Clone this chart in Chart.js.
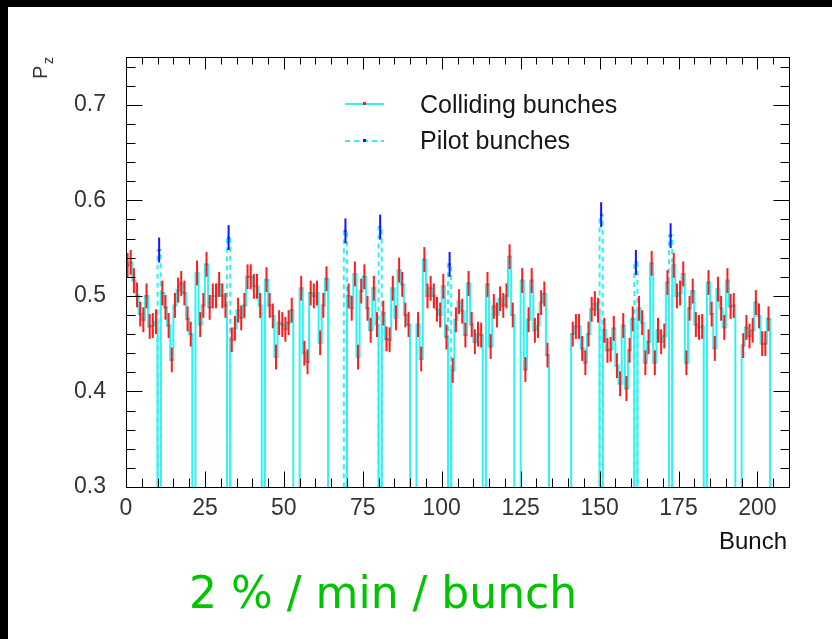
<!DOCTYPE html>
<html>
<head>
<meta charset="utf-8">
<title>Pz per bunch</title>
<script src="https://cdn.jsdelivr.net/npm/chart.js@4.4.1/dist/chart.umd.min.js"></script>
<style>
  html, body { margin: 0; padding: 0; background: #000; }
  #sheet { position: absolute; left: 8px; top: 7px; width: 824px; height: 632px; background: #fff; }
  #wrap { position: absolute; left: 0; top: 0; width: 832px; height: 639px; }
  #rate { position: absolute; left: 189px; top: 571px; font: 44px/44px "Comic Sans MS", "DejaVu Sans", sans-serif; color: #00c400; white-space: nowrap; }
</style>
</head>
<body>
<div id="sheet"></div>
<div id="wrap"><canvas id="pz" width="832" height="639"></canvas></div>
<div id="rate">2 % / min / bunch</div>
<script>
// Pz of every colliding bunch slot 0..203, null = empty slot or pilot slot
var collidingPz = [
  0.532, 0.535, 0.516, 0.501, 0.481, 0.475, 0.500, 0.468, 0.469, 0.473,
  null,  0.503, 0.488, 0.469, 0.433, 0.490, 0.506, 0.513, 0.503, 0.476,
  0.460, null,  0.524, 0.470, 0.490, 0.533, 0.488, 0.500, 0.500, 0.512,
  0.500, 0.490, null,  0.454, 0.466, 0.485, 0.477, 0.490, 0.520, 0.520,
  0.510, 0.510, 0.490, null,  0.517, 0.490, 0.479, 0.436, 0.472, 0.470,
  0.465, 0.472, 0.485, null,  null,  0.508, 0.440, 0.431, 0.503, 0.500,
  0.503, 0.451, 0.490, 0.518, null,  null,  null,  null,  null,  null,
  0.500, 0.487, 0.523, 0.436, 0.505, 0.520, 0.487, 0.464, 0.508, 0.470,
  null,  0.482, 0.455, 0.454, 0.508, 0.477, 0.527, 0.512, 0.480, 0.470,
  null,  null,  0.470, 0.434, 0.538, 0.500, 0.508, 0.500, 0.486, 0.480,
  0.510, 0.457, null,  0.422, 0.475, 0.494, 0.484, 0.459, 0.513, 0.470,
  0.452, 0.460, 0.459, null,  0.512, 0.447, 0.489, 0.480, 0.497, 0.490,
  0.500, 0.541, 0.480, null,  null,  0.516, 0.423, 0.475, 0.516, 0.464,
  0.469, 0.493, 0.502, 0.438, null,  null,  null,  null,  null,  null,
  null,  0.460, 0.468, 0.468, 0.445, 0.430, 0.460, 0.486, 0.492, 0.485,
  null,  0.464, 0.443, 0.444, 0.466, 0.427, 0.408, 0.469, 0.403, 0.443,
  0.476, null,  0.487, 0.472, 0.430, 0.452, 0.534, 0.430, 0.464, 0.452,
  0.458, 0.514, null,  0.532, 0.500, 0.503, 0.523, 0.430, 0.487, 0.505,
  0.470, 0.467, 0.468, null,  0.514, 0.481, 0.445, 0.507, 0.487, 0.467,
  0.516, 0.489, 0.490, null,  null,  0.448, 0.467, 0.458, 0.464, 0.493,
  0.479, 0.450, 0.450, 0.476
];
var collidingErr = 0.013;

var pilotBunch = [10, 32, 69, 80, 102, 150, 161, 172];
var pilotPz = [0.548, 0.561, 0.568, 0.572, 0.533, 0.585, 0.535, 0.563];
var pilotErr = 0.013;

var xTicks = [0, 25, 50, 75, 100, 125, 150, 175, 200];
var yTicks = [0.3, 0.4, 0.5, 0.6, 0.7];

var CYAN = '#30f2f2';
var RED = '#ff1c1c';
var BLUE = '#1414ff';
var FONT = '"Liberation Sans", Arial, sans-serif';
var NARROW = '"Liberation Sans Narrow", "Liberation Sans", Arial, sans-serif';

// histogram outline: each value holds over [b, b+1], empty slots fall to 0
var collOutline = [{x: 0, y: 0}];
var collPoints = [];
collidingPz.forEach(function (v, b) {
  collOutline.push({x: b, y: v === null ? 0 : v});
  if (v !== null) collPoints.push({x: b + 0.5, y: v});
});
collOutline.push({x: collidingPz.length, y: 0});

var pilotOutline = [];
var pilotPoints = [];
pilotBunch.forEach(function (b, i) {
  var v = pilotPz[i];
  pilotOutline.push({x: b, y: 0}, {x: b, y: v}, {x: b + 1, y: v}, {x: b + 1, y: 0});
  pilotPoints.push({x: b + 0.5, y: v});
});

function crisp(v) { return Math.round(v) + 0.5; }

var rootFrame = {
  id: 'rootFrame',
  // error bars go under the point markers
  beforeDatasetDraw: function (chart, args) {
    var ds = chart.data.datasets[args.index];
    if (!ds.err) return;
    var ctx = chart.ctx, sx = chart.scales.x, sy = chart.scales.y;
    ctx.save();
    ctx.strokeStyle = ds.barColor;
    ctx.lineWidth = 2;
    ds.data.forEach(function (p) {
      var px = sx.getPixelForValue(p.x);
      ctx.beginPath();
      ctx.moveTo(px, sy.getPixelForValue(p.y - ds.err));
      ctx.lineTo(px, sy.getPixelForValue(p.y + ds.err));
      ctx.stroke();
    });
    ctx.restore();
  },
  afterDraw: function (chart) {
    var ctx = chart.ctx, a = chart.chartArea, sx = chart.scales.x, sy = chart.scales.y;
    var L = crisp(a.left), R = crisp(a.right), T = crisp(a.top), B = crisp(a.bottom);
    ctx.save();
    ctx.strokeStyle = '#000';
    ctx.lineWidth = 1;
    ctx.strokeRect(L, T, R - L, B - T);

    // y ticks every 0.02, mirrored on the right
    ctx.beginPath();
    for (var k = 0; k <= 22; k++) {
      var v = 0.3 + k * 0.02;
      var py = crisp(sy.getPixelForValue(v));
      var len = (k % 5 === 0) ? 16 : 9;
      ctx.moveTo(L, py); ctx.lineTo(L + len, py);
      ctx.moveTo(R, py); ctx.lineTo(R - len, py);
    }
    // x ticks every 5 bunches, mirrored on top
    for (var j = 0; j <= 42; j++) {
      var px = crisp(sx.getPixelForValue(j * 5));
      var lx = (j % 5 === 0) ? 16 : 9;
      ctx.moveTo(px, B); ctx.lineTo(px, B - lx);
      ctx.moveTo(px, T); ctx.lineTo(px, T + (j % 5 === 0 ? 12 : 7));
    }
    ctx.stroke();

    // axis titles
    ctx.fillStyle = '#111';
    ctx.font = '24px ' + FONT;
    ctx.textAlign = 'right';
    ctx.textBaseline = 'alphabetic';
    ctx.fillText('Bunch', 787, 549);

    ctx.save();
    ctx.translate(47, 79);
    ctx.rotate(-Math.PI / 2);
    ctx.textAlign = 'left';
    ctx.fillStyle = '#333';
    ctx.font = '20px ' + FONT;
    ctx.fillText('P', 0, 0);
    ctx.font = '14px ' + FONT;
    ctx.fillText('z', 15, 6);
    ctx.restore();

    // legend
    ctx.lineWidth = 2;
    ctx.strokeStyle = CYAN;
    ctx.beginPath(); ctx.moveTo(345, 104); ctx.lineTo(384, 104); ctx.stroke();
    ctx.setLineDash([5, 4]);
    ctx.beginPath(); ctx.moveTo(345, 141); ctx.lineTo(384, 141); ctx.stroke();
    ctx.setLineDash([]);
    ctx.fillStyle = RED; ctx.fillRect(363, 102, 3, 3);
    ctx.fillStyle = BLUE; ctx.fillRect(363, 139, 3, 3);
    ctx.fillStyle = '#161616';
    ctx.font = '25px ' + FONT;
    ctx.textAlign = 'left';
    ctx.fillText('Colliding bunches', 420, 113);
    ctx.fillText('Pilot bunches', 420, 149);
    ctx.restore();
  }
};

new Chart(document.getElementById('pz'), {
  type: 'scatter',
  data: {
    datasets: [
      // higher order is painted first, so the outlines sit under the error bars
      { type: 'line', order: 4, data: collOutline, stepped: true, borderColor: CYAN, borderWidth: 2,
        pointRadius: 0, fill: false },
      { type: 'line', order: 3, data: pilotOutline, borderColor: CYAN, borderWidth: 2, borderDash: [5, 4],
        pointRadius: 0, fill: false },
      { order: 2, data: collPoints, err: collidingErr, barColor: RED, pointStyle: 'rect', pointRadius: 1.5,
        backgroundColor: RED, borderWidth: 0 },
      { order: 1, data: pilotPoints, err: pilotErr, barColor: BLUE, pointStyle: 'rect', pointRadius: 1.5,
        backgroundColor: BLUE, borderWidth: 0 }
    ]
  },
  options: {
    responsive: false,
    animation: false,
    events: [],
    layout: { padding: { left: 0, top: 57, right: 43, bottom: 0 } },
    plugins: { legend: { display: false }, tooltip: { enabled: false } },
    scales: {
      x: {
        type: 'linear', min: 0, max: 210,
        afterBuildTicks: function (s) { s.ticks = xTicks.map(function (v) { return {value: v}; }); },
        afterFit: function (s) { s.height = 152; },
        grid: { display: false, drawTicks: false },
        border: { display: false },
        ticks: { font: { family: NARROW, size: 23 }, color: '#333', padding: 8,
                 maxRotation: 0, autoSkip: false }
      },
      y: {
        type: 'linear', min: 0.3, max: 0.75,
        afterBuildTicks: function (s) { s.ticks = yTicks.map(function (v) { return {value: v}; }); },
        afterFit: function (s) { s.width = 126; },
        grid: { display: false, drawTicks: false },
        border: { display: false },
        ticks: { font: { family: NARROW, size: 23 }, color: '#333', padding: 20,
                 callback: function (v) { return v.toFixed(1); } }
      }
    }
  },
  plugins: [rootFrame]
});
</script>
</body>
</html>
